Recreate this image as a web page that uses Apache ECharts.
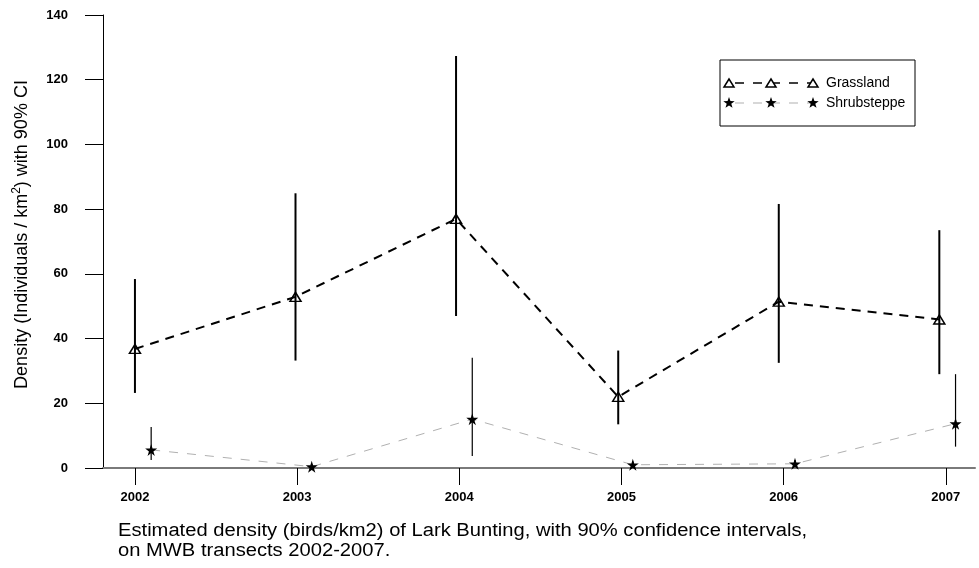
<!DOCTYPE html>
<html>
<head>
<meta charset="utf-8">
<script src="https://cdn.jsdelivr.net/npm/echarts@6/dist/echarts.min.js"></script>
<style>
  html, body { margin: 0; padding: 0; background: #fff; }
  #main { width: 979px; height: 568px; }
</style>
</head>
<body>
<div id="main"></div>
<script>
// year ticks on the x axis
const years = [2002, 2003, 2004, 2005, 2006, 2007];

// Grassland: x position, estimate and 90% CI
const grassX = [2002.0, 2002.99, 2003.98, 2004.98, 2005.97, 2006.96];
const grassVal = [36.8, 52.9, 77.0, 22.0, 51.4, 45.9];
const grassLow = [23.2, 33.2, 47.0, 13.5, 32.5, 29.0];
const grassHigh = [58.4, 84.9, 127.3, 36.3, 81.6, 73.5];

// Shrubsteppe: plotted slightly right of the year
const shrubX = [2002.1, 2003.09, 2004.08, 2005.07, 2006.07, 2007.06];
const shrubVal = [5.6, 0.4, 15.1, 1.0, 1.3, 13.7];
const shrubLow = [2.5, 0.0, 3.7, 0.3, 0.5, 6.6];
const shrubHigh = [12.7, 1.2, 34.1, 2.0, 2.5, 29.0];

const yTicks = [0, 20, 40, 60, 80, 100, 120, 140];

const FONT = 'Liberation Sans, Arial, sans-serif';
const STAR = 'path://M50,0 L61,35 L98,35 L68,57 L79,91 L50,70 L21,91 L32,57 L2,35 L39,35 Z';

function starPoints(cx, cy, r) {
    const pts = [];
    for (let i = 0; i < 10; i++) {
        const rr = i % 2 === 0 ? r : r * 0.4;
        const a = -Math.PI / 2 + i * Math.PI / 5;
        pts.push([cx + rr * Math.cos(a), cy + rr * Math.sin(a)]);
    }
    return pts;
}

function triPoints(cx, cy, w, h) {
    return [[cx - w / 2, cy + h / 2], [cx + w / 2, cy + h / 2], [cx, cy - h / 2]];
}

function errorBar(width) {
    return function (params, api) {
        const p1 = api.coord([api.value(0), api.value(1)]);
        const p2 = api.coord([api.value(0), api.value(2)]);
        return {
            type: 'line',
            shape: { x1: p1[0], y1: p1[1], x2: p2[0], y2: p2[1] },
            style: { stroke: '#000', lineWidth: width }
        };
    };
}

const grassPts = grassX.map((x, i) => [x, grassVal[i]]);
const shrubPts = shrubX.map((x, i) => [x, shrubVal[i]]);
const grassCI = grassX.map((x, i) => [x, grassLow[i], grassHigh[i]]);
const shrubCI = shrubX.map((x, i) => [x, shrubLow[i], shrubHigh[i]]);

// hand drawn legend (three markers per row like the original)
const lg = { x: 720, y: 60 };
const graphics = [
    { type: 'rect', shape: { x: lg.x, y: lg.y, width: 195, height: 66 }, style: { fill: '#fff', stroke: '#000', lineWidth: 1 } },
    { type: 'line', shape: { x1: lg.x + 9, y1: lg.y + 23, x2: lg.x + 93, y2: lg.y + 23 }, style: { stroke: '#000', lineWidth: 1.5, lineDash: [9, 9], lineDashOffset: -6 } },
    { type: 'line', shape: { x1: lg.x + 9, y1: lg.y + 43, x2: lg.x + 93, y2: lg.y + 43 }, style: { stroke: '#b0b0b0', lineWidth: 1, lineDash: [9, 9], lineDashOffset: -6 } },
    { type: 'text', x: lg.x + 106, y: lg.y + 23, style: { text: 'Grassland', font: '14px ' + FONT, fill: '#000', verticalAlign: 'middle' } },
    { type: 'text', x: lg.x + 106, y: lg.y + 43, style: { text: 'Shrubsteppe', font: '14px ' + FONT, fill: '#000', verticalAlign: 'middle' } }
];
[9, 51, 93].forEach(dx => {
    graphics.push({ type: 'polygon', shape: { points: triPoints(lg.x + dx, lg.y + 23, 10, 8) }, style: { fill: '#fff', stroke: '#000', lineWidth: 1.5 } });
    graphics.push({ type: 'polygon', shape: { points: starPoints(lg.x + dx, lg.y + 43, 6) }, style: { fill: '#000' } });
});

// caption under the chart, a bit wider than plain 18px
graphics.push({
    type: 'text',
    x: 118,
    y: 521,
    scaleX: 1.12,
    style: {
        text: 'Estimated density (birds/km2) of Lark Bunting, with 90% confidence intervals,\non MWB transects 2002-2007.',
        font: '18px ' + FONT,
        lineHeight: 20,
        fill: '#000'
    }
});

const chart = echarts.init(document.getElementById('main'));
chart.setOption({
    animation: false,
    backgroundColor: '#fff',
    textStyle: { fontFamily: FONT },
    grid: { left: 103, right: 4, top: 15, bottom: 100 },
    xAxis: {
        type: 'value',
        min: 2001.803,
        max: 2007.18,
        splitLine: { show: false },
        axisLine: { onZero: false, lineStyle: { color: '#7a7a7a', width: 2 } },
        axisTick: { customValues: years, length: 17, lineStyle: { color: '#000', width: 1 } },
        axisLabel: { customValues: years, margin: 23, color: '#000', fontSize: 13, fontWeight: 'bold', fontFamily: FONT,
            formatter: v => String(v) }
    },
    yAxis: {
        type: 'value',
        min: 0,
        max: 140,
        interval: 20,
        splitLine: { show: false },
        axisLine: { show: true, onZero: false, lineStyle: { color: '#000', width: 1 } },
        axisTick: { show: true, length: 18, lineStyle: { color: '#000', width: 1 } },
        axisLabel: { margin: 35, color: '#000', fontSize: 13, fontWeight: 'bold', fontFamily: FONT,
            formatter: v => yTicks.includes(v) ? String(v) : '' },
        name: '{a|Density (Individuals / km}{s|2}{a|) with 90% CI}',
        nameLocation: 'middle',
        nameGap: 70,
        nameRotate: 90,
        nameTextStyle: {
            color: '#000',
            padding: [0, 0, 0, 14],
            rich: {
                a: { fontSize: 18, color: '#000', fontFamily: FONT, lineHeight: 22 },
                s: { fontSize: 12, color: '#000', fontFamily: FONT, lineHeight: 22, verticalAlign: 'top', padding: [0, 0, 7, 0] }
            }
        }
    },
    series: [
        {
            name: 'Shrubsteppe',
            type: 'line',
            data: shrubPts,
            symbol: STAR,
            symbolSize: 12,
            itemStyle: { color: '#000' },
            lineStyle: { color: '#b0b0b0', width: 1, type: [9, 9] },
            z: 3
        },
        {
            name: 'Grassland',
            type: 'line',
            data: grassPts,
            symbol: 'triangle',
            symbolSize: [11, 9],
            itemStyle: { color: 'rgba(0,0,0,0)', borderColor: '#000', borderWidth: 1.5 },
            lineStyle: { color: '#000', width: 2, type: [9, 7] },
            z: 3
        },
        {
            name: 'Grassland CI',
            type: 'custom',
            data: grassCI,
            encode: { x: 0, y: [1, 2] },
            renderItem: errorBar(2),
            z: 4
        },
        {
            name: 'Shrubsteppe CI',
            type: 'custom',
            data: shrubCI,
            encode: { x: 0, y: [1, 2] },
            renderItem: errorBar(1.2),
            z: 4
        }
    ],
    graphic: graphics
});
</script>
</body>
</html>
